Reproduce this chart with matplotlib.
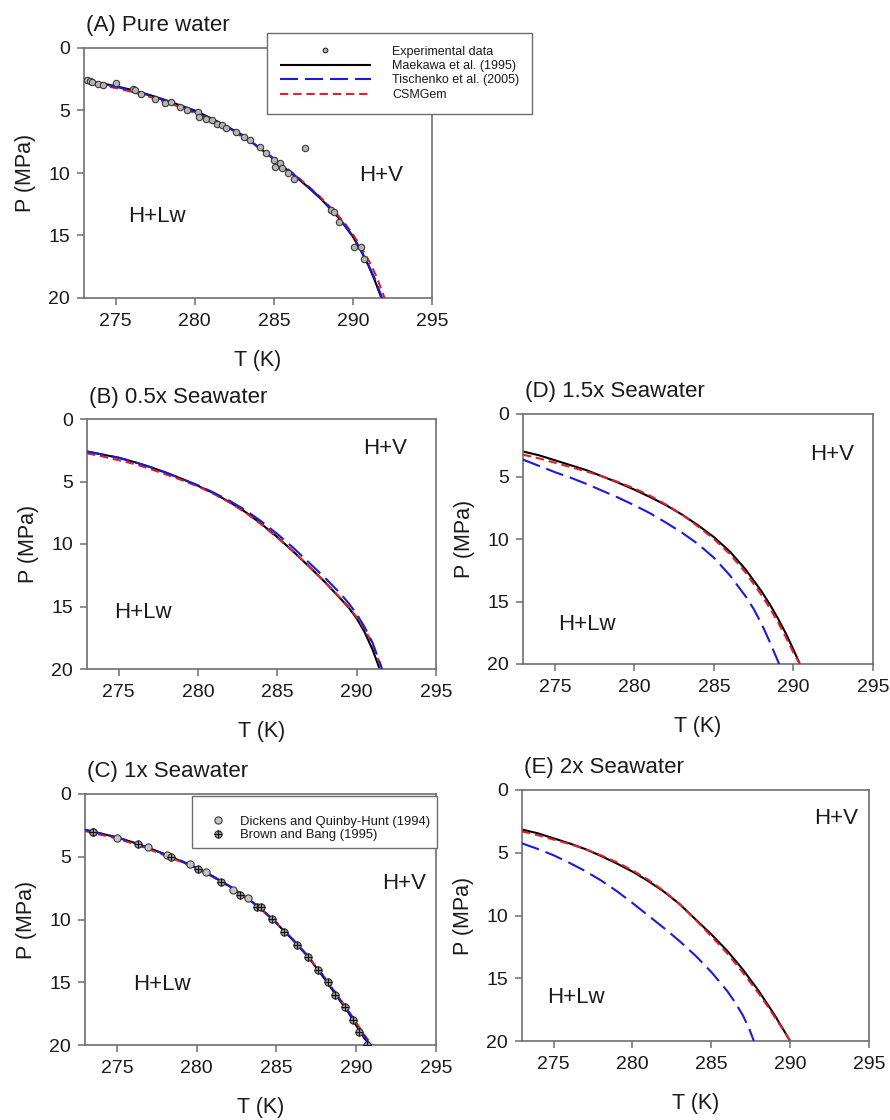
import matplotlib
matplotlib.use("Agg")
import matplotlib.pyplot as plt
from matplotlib.lines import Line2D
from matplotlib.legend_handler import HandlerTuple

plt.rcParams["font.family"] = ["Liberation Sans", "DejaVu Sans"]
plt.rcParams["lines.scale_dashes"] = False

# ---------------- data ----------------
x_ticks = [275, 280, 285, 290, 295]
y_ticks = [0, 5, 10, 15, 20]

# (A) Pure water
T_A_mae = [273.0, 274, 275, 276, 277, 278, 279, 280, 281, 282, 283, 284, 285, 286, 287, 288, 289, 289.5, 290, 290.5, 291, 291.4, 291.8]
P_A_mae = [2.55, 2.8, 3.05, 3.35, 3.7, 4.1, 4.55, 5.0, 5.6, 6.25, 6.95, 7.9, 8.9, 9.9, 10.95, 12.1, 13.45, 14.25, 15.1, 16.2, 17.45, 18.65, 20.0]
T_A_tis = [273.0, 274, 275, 276, 277, 278, 279, 280, 281, 282, 283, 284, 285, 286, 287, 288, 289, 289.5, 290, 290.5, 291, 291.4, 291.85]
P_A_tis = [2.6, 2.85, 3.1, 3.4, 3.75, 4.15, 4.6, 5.1, 5.65, 6.3, 7.0, 7.9, 8.85, 9.85, 10.9, 12.05, 13.4, 14.2, 15.05, 16.15, 17.4, 18.5, 20.0]
T_A_csm = [273.0, 274, 275, 276, 277, 278, 279, 280, 281, 282, 283, 284, 285, 286, 287, 288, 289, 289.5, 290, 290.5, 291, 291.5, 292.0]
P_A_csm = [2.7, 2.95, 3.2, 3.5, 3.85, 4.25, 4.7, 5.2, 5.75, 6.4, 7.1, 7.95, 8.85, 9.8, 10.85, 12.0, 13.3, 14.05, 14.9, 15.9, 17.0, 18.3, 20.0]
T_A_exp = [273.2, 273.4, 273.5, 273.9, 274.2, 275.0, 276.1, 276.2, 276.6, 277.5, 278.1, 278.5, 279.1, 279.5,
           280.2, 280.3, 280.7, 281.1, 281.4, 281.7, 282.0, 282.6, 283.1, 283.5, 284.1, 284.5, 285.0, 285.1,
           285.4, 285.5, 285.9, 286.3, 287.0, 288.6, 288.8, 289.1, 290.1, 290.5, 290.7]
P_A_exp = [2.6, 2.65, 2.7, 2.85, 3.0, 2.8, 3.3, 3.35, 3.7, 4.05, 4.4, 4.3, 4.75, 4.95,
           5.1, 5.5, 5.65, 5.8, 6.05, 6.15, 6.4, 6.7, 7.1, 7.4, 7.9, 8.4, 8.95, 9.5,
           9.2, 9.6, 10.0, 10.5, 8.0, 13.0, 13.1, 13.9, 15.9, 15.9, 16.9]

# (B) 0.5x seawater
T_B_mae = [273.0, 274, 275, 276, 277, 278, 279, 280, 281, 282, 283, 284, 285, 286, 287, 288, 289, 289.5, 290, 290.5, 291, 291.45]
P_B_mae = [2.6, 2.85, 3.1, 3.45, 3.85, 4.3, 4.8, 5.35, 5.95, 6.65, 7.45, 8.4, 9.45, 10.6, 11.8, 13.05, 14.4, 15.1, 15.95, 17.05, 18.45, 20.0]
T_B_tis = [273.0, 274, 275, 276, 277, 278, 279, 280, 281, 282, 283, 284, 285, 286, 287, 288, 289, 289.5, 290, 290.5, 291, 291.6]
P_B_tis = [2.6, 2.85, 3.1, 3.45, 3.85, 4.3, 4.8, 5.3, 5.9, 6.55, 7.3, 8.2, 9.2, 10.3, 11.5, 12.7, 14.0, 14.75, 15.6, 16.65, 17.9, 20.0]
T_B_csm = [273.0, 274, 275, 276, 277, 278, 279, 280, 281, 282, 283, 284, 285, 286, 287, 288, 289, 289.5, 290, 290.5, 291, 291.6]
P_B_csm = [2.75, 3.0, 3.3, 3.6, 4.0, 4.45, 4.9, 5.4, 6.0, 6.7, 7.5, 8.45, 9.5, 10.6, 11.8, 13.05, 14.35, 15.05, 15.85, 16.8, 18.0, 20.0]

# (C) 1x seawater
T_C_mae = [273.0, 274, 275, 276, 277, 278, 279, 280, 281, 282, 283, 284, 285, 286, 287, 288, 289, 289.5, 290, 290.5, 290.85]
P_C_mae = [2.85, 3.15, 3.45, 3.85, 4.3, 4.8, 5.35, 5.9, 6.55, 7.3, 8.15, 9.1, 10.3, 11.6, 13.0, 14.7, 16.5, 17.4, 18.45, 19.45, 20.0]
T_C_tis = [273.0, 274, 275, 276, 277, 278, 279, 280, 281, 282, 283, 284, 285, 286, 287, 288, 289, 289.5, 290, 290.5, 290.9]
P_C_tis = [2.85, 3.15, 3.45, 3.85, 4.3, 4.8, 5.3, 5.9, 6.55, 7.3, 8.15, 9.1, 10.25, 11.55, 12.95, 14.6, 16.4, 17.3, 18.3, 19.3, 20.0]
T_C_csm = [273.0, 274, 275, 276, 277, 278, 279, 280, 281, 282, 283, 284, 285, 286, 287, 288, 289, 289.5, 290, 290.5, 291.0]
P_C_csm = [2.95, 3.25, 3.55, 3.95, 4.4, 4.9, 5.4, 5.95, 6.6, 7.35, 8.2, 9.15, 10.3, 11.55, 12.95, 14.6, 16.35, 17.25, 18.2, 19.2, 20.0]
T_C_dq = [273.5, 275.0, 276.95, 278.16, 279.6, 280.6, 282.3, 283.2]
P_C_dq = [3.0, 3.48, 4.25, 4.9, 5.6, 6.24, 7.65, 8.26]
T_C_bb = [273.48, 276.3, 278.4, 280.1, 281.5, 282.7, 283.8, 284.0, 284.7, 285.5, 286.3, 287.0, 287.6,
          288.2, 288.7, 289.3, 289.8, 290.2, 290.7]
P_C_bb = [3.0, 4.0, 5.05, 6.0, 6.98, 8.05, 9.03, 9.03, 9.99, 11.02, 12.03, 13.0, 14.0,
          15.0, 16.0, 17.0, 18.0, 19.0, 20.0]

# (D) 1.5x seawater
T_D_mae = [273.0, 274, 275, 276, 277, 278, 279, 280, 281, 282, 283, 284, 285, 286, 287, 288, 288.5, 289, 289.5, 290, 290.4]
P_D_mae = [3.0, 3.3, 3.7, 4.1, 4.5, 5.0, 5.5, 6.05, 6.65, 7.3, 8.05, 8.9, 9.85, 11.0, 12.45, 14.2, 15.2, 16.3, 17.5, 18.85, 20.0]
T_D_tis = [273.0, 274, 275, 276, 277, 278, 279, 280, 281, 282, 283, 284, 285, 286, 287, 287.5, 288, 288.5, 289.1]
P_D_tis = [3.65, 4.15, 4.65, 5.1, 5.6, 6.15, 6.7, 7.3, 7.95, 8.7, 9.5, 10.4, 11.5, 12.9, 14.6, 15.6, 16.8, 18.2, 20.0]
T_D_csm = [273.0, 274, 275, 276, 277, 278, 279, 280, 281, 282, 283, 284, 285, 286, 287, 288, 288.5, 289, 289.5, 290, 290.4]
P_D_csm = [3.25, 3.55, 3.9, 4.25, 4.6, 5.0, 5.45, 5.95, 6.55, 7.25, 8.05, 9.0, 10.0, 11.2, 12.7, 14.5, 15.5, 16.6, 17.8, 19.1, 20.0]

# (E) 2x seawater
T_E_mae = [273.0, 274, 275, 276, 277, 278, 279, 280, 281, 282, 283, 284, 285, 286, 287, 288, 288.5, 289, 289.5, 290.0]
P_E_mae = [3.15, 3.45, 3.85, 4.25, 4.7, 5.25, 5.85, 6.5, 7.25, 8.1, 9.1, 10.3, 11.5, 12.8, 14.3, 16.0, 16.95, 17.9, 18.95, 20.0]
T_E_tis = [273.0, 274, 275, 276, 277, 278, 279, 280, 281, 282, 283, 284, 285, 286, 286.5, 287, 287.4, 287.7]
P_E_tis = [4.25, 4.7, 5.2, 5.8, 6.45, 7.2, 8.05, 9.0, 10.0, 11.0, 12.05, 13.2, 14.5, 16.0, 16.9, 17.95, 19.0, 20.0]
T_E_csm = [273.0, 274, 275, 276, 277, 278, 279, 280, 281, 282, 283, 284, 285, 286, 287, 288, 288.5, 289, 289.5, 290.0]
P_E_csm = [3.3, 3.6, 3.95, 4.3, 4.7, 5.2, 5.75, 6.4, 7.15, 8.05, 9.1, 10.35, 11.65, 13.0, 14.55, 16.2, 17.1, 18.05, 19.0, 20.0]

# phase-region labels (T, P)
region_labels = {
    "A": [("H+V", 291.8, 10.2), ("H+Lw", 277.6, 13.5)],
    "B": [("H+V", 291.8, 2.4), ("H+Lw", 276.5, 15.5)],
    "C": [("H+V", 293.0, 7.1), ("H+Lw", 277.8, 15.2)],
    "D": [("H+V", 292.4, 3.2), ("H+Lw", 277.0, 16.8)],
    "E": [("H+V", 292.9, 2.3), ("H+Lw", 276.4, 16.5)],
}
titles = {
    "A": "(A) Pure water",
    "B": "(B) 0.5x Seawater",
    "C": "(C) 1x Seawater",
    "D": "(D) 1.5x Seawater",
    "E": "(E) 2x Seawater",
}

# ---------------- styles ----------------
MAE = dict(color="black", lw=1.5, solid_capstyle="butt")
TIS = dict(color="#1a1ae0", lw=1.5, dashes=(13, 5))
CSM = dict(color="#e0202a", lw=1.5, dashes=(6, 3.5))
SPINE = "#6e6e6e"
TXT = "#1a1a1a"

W, H = 890, 1120
fig = plt.figure(figsize=(W / 100, H / 100), dpi=100)


def px_axes(left, top, right, bottom):
    return fig.add_axes([left / W, 1 - bottom / H, (right - left) / W, (bottom - top) / H])


def style(ax, key):
    ax.set_xlim(273, 295)
    ax.set_ylim(20, 0)
    ax.set_xticks(x_ticks)
    ax.set_yticks(y_ticks)
    ax.tick_params(direction="out", length=5, width=1.1, color=SPINE, labelsize=14,
                   labelcolor=TXT, top=False, right=False)
    ax.tick_params(axis="x", pad=6)
    ax.tick_params(axis="y", pad=5)
    for s in ax.spines.values():
        s.set_color(SPINE)
        s.set_linewidth(1.2)
    ax.set_xlabel("T (K)", fontsize=15.5, color=TXT, labelpad=14)
    ax.set_ylabel("P (MPa)", fontsize=15.5, color=TXT, labelpad=9)
    ax.annotate(titles[key], xy=(0, 1), xycoords="axes fraction", xytext=(2, 22),
                textcoords="offset pixels", ha="left", va="center", fontsize=16, color=TXT)
    for txt, t, p in region_labels[key]:
        ax.text(t, p, txt, ha="center", va="center", fontsize=16, color=TXT)


def models(ax, mae, tis, csm):
    ax.plot(*mae, **MAE, zorder=2)
    ax.plot(*csm, **CSM, zorder=3)
    ax.plot(*tis, **TIS, zorder=4)


axA = px_axes(84, 48, 432, 298)
axB = px_axes(87, 419, 436, 669)
axC = px_axes(85, 794, 436, 1045)
axD = px_axes(523, 414, 873, 664)
axE = px_axes(522, 790, 869, 1041)

# (A)
models(axA, (T_A_mae, P_A_mae), (T_A_tis, P_A_tis), (T_A_csm, P_A_csm))
axA.plot(T_A_exp, P_A_exp, ls="none", marker="o", ms=4.6, mfc="#b5b5b5", mec="#3a3a3a", mew=0.8, zorder=5)
style(axA, "A")

# (B)
models(axB, (T_B_mae, P_B_mae), (T_B_tis, P_B_tis), (T_B_csm, P_B_csm))
style(axB, "B")

# (C)
models(axC, (T_C_mae, P_C_mae), (T_C_tis, P_C_tis), (T_C_csm, P_C_csm))
axC.plot(T_C_dq, P_C_dq, ls="none", marker="o", ms=5.2, mfc="#c4c4c4", mec="#3a3a3a", mew=0.8, zorder=5)
axC.plot(T_C_bb, P_C_bb, ls="none", marker="o", ms=5.2, mfc="#9a9a9a", mec="#2a2a2a", mew=0.8, zorder=6)
axC.plot(T_C_bb, P_C_bb, ls="none", marker="+", ms=5.2, mec="#111111", mew=0.8, zorder=7)
style(axC, "C")

# (D)
models(axD, (T_D_mae, P_D_mae), (T_D_tis, P_D_tis), (T_D_csm, P_D_csm))
style(axD, "D")

# (E)
models(axE, (T_E_mae, P_E_mae), (T_E_tis, P_E_tis), (T_E_csm, P_E_csm))
style(axE, "E")

# legend for the model curves
h_exp = Line2D([], [], ls="none", marker="o", ms=3.4, mfc="#b5b5b5", mec="#2a2a2a", mew=0.8)
h_mae = Line2D([], [], **MAE)
h_tis = Line2D([], [], **TIS)
h_csm = Line2D([], [], **CSM)
legA = fig.legend([h_exp, h_mae, h_tis, h_csm],
                  ["Experimental data", "Maekawa et al. (1995)", "Tischenko et al. (2005)", "CSMGem"],
                  loc="upper left", bbox_to_anchor=(267 / W, 1 - 33 / H), borderaxespad=0,
                  fontsize=9, handlelength=7.3, handletextpad=1.7, labelspacing=0.2, borderpad=1.0,
                  fancybox=False, frameon=True, edgecolor=SPINE, framealpha=1)
legA.get_frame().set_linewidth(1.0)
for t in legA.get_texts():
    t.set_color(TXT)

# legend for the seawater data sets
h_dq = Line2D([], [], ls="none", marker="o", ms=5.2, mfc="#c4c4c4", mec="#3a3a3a", mew=0.8)
h_bb_c = Line2D([], [], ls="none", marker="o", ms=5.2, mfc="#9a9a9a", mec="#2a2a2a", mew=0.8)
h_bb_p = Line2D([], [], ls="none", marker="+", ms=5.2, mec="#111111", mew=0.8)
legC = axC.legend([h_dq, (h_bb_c, h_bb_p)],
                  ["Dickens and Quinby-Hunt (1994)", "Brown and Bang (1995)"],
                  handler_map={tuple: HandlerTuple(ndivide=1)},
                  loc="upper right", bbox_to_anchor=(437 / W, 1 - 796 / H),
                  bbox_transform=fig.transFigure, borderaxespad=0,
                  fontsize=9.4, handlelength=3.0, handletextpad=0.2, labelspacing=0.1,
                  borderpad=0.5, title=" ", title_fontsize=9,
                  fancybox=False, frameon=True, edgecolor=SPINE, framealpha=1)
legC.get_frame().set_linewidth(1.0)
for t in legC.get_texts():
    t.set_color(TXT)

fig.savefig("out.png", dpi=100, facecolor="white")
